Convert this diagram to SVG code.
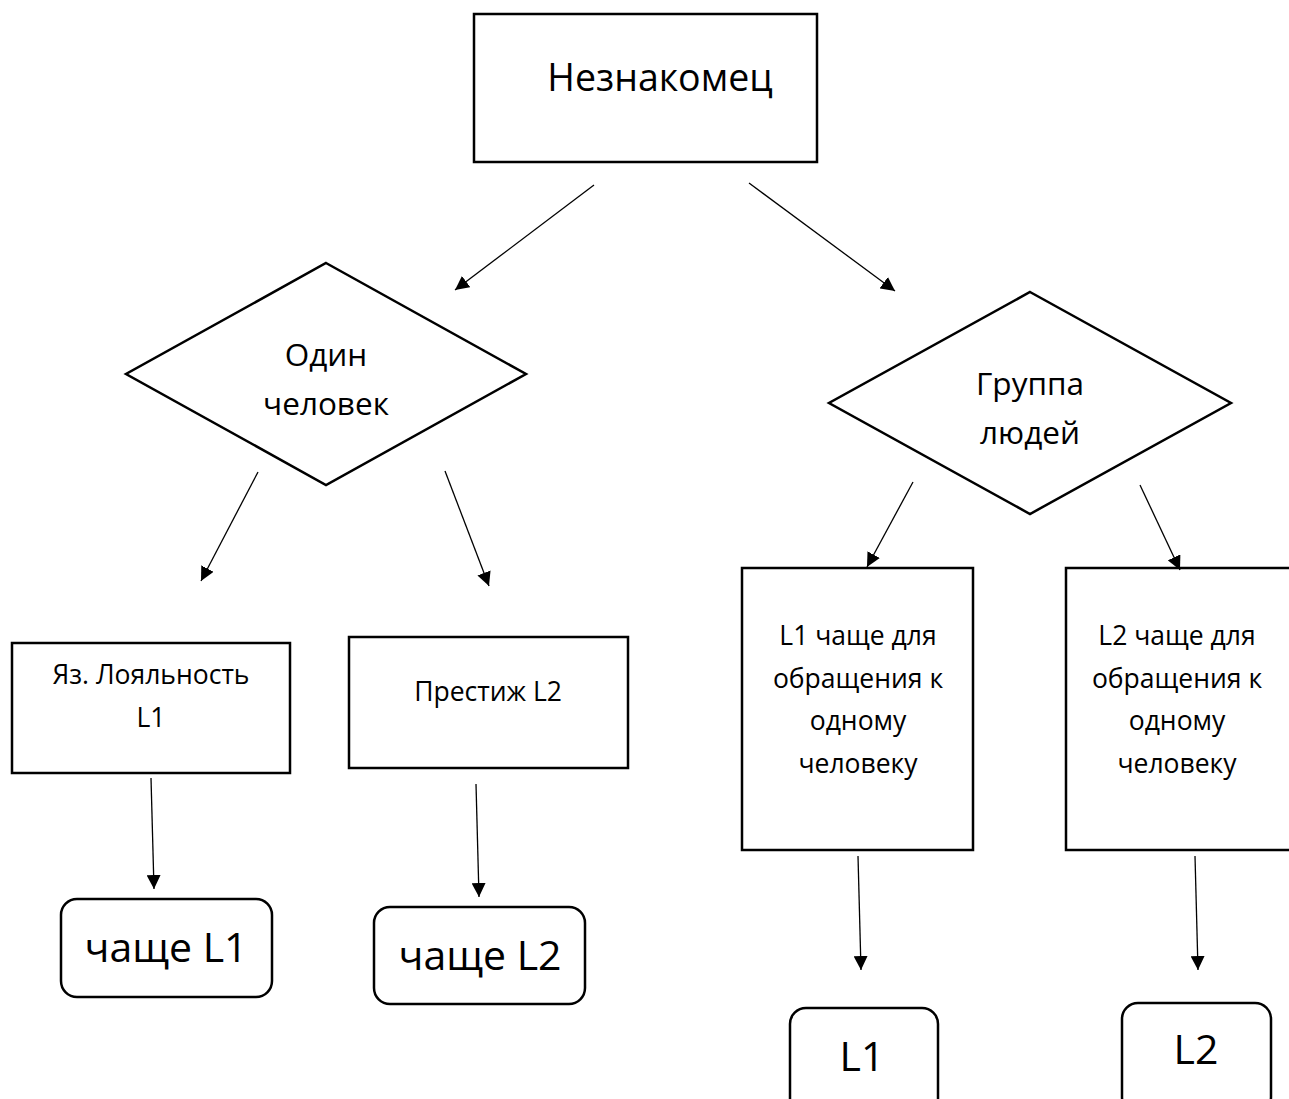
<svg xmlns="http://www.w3.org/2000/svg" width="1289" height="1099" viewBox="0 0 1289 1099">
<defs>
<style>
.box{fill:#fff;stroke:#000;stroke-width:2.5}
.con{stroke:#000;stroke-width:1.3;fill:none;marker-end:url(#ah)}
text{font-family:"Open Sans","Noto Sans",sans-serif;fill:#000;text-anchor:middle}
.big{font-size:37.5px}
.mid{font-size:31.5px}
.sm{font-size:26.5px}
.lg{font-size:41px}
</style>
<marker id="ah" viewBox="0 0 10 10" refX="10" refY="5" markerWidth="14" markerHeight="14" markerUnits="userSpaceOnUse" orient="auto">
<path d="M0,0 L10,5 L0,10 Z" fill="#000"/>
</marker>
</defs>
<rect width="1289" height="1099" fill="#fff"/>
<g id="n-stranger">
<rect class="box" x="474" y="14" width="343" height="148"/>
<text class="big" x="660" y="91">Незнакомец</text>
</g>
<g id="n-one">
<polygon class="box" points="326,263 526,374 326,485 126,374"/>
<text class="mid" x="326" y="366">Один</text>
<text class="mid" x="326" y="415">человек</text>
</g>
<g id="n-group">
<polygon class="box" points="1030,292 1231,403 1030,514 829,403"/>
<text class="mid" x="1030" y="395">Группа</text>
<text class="mid" x="1030" y="444">людей</text>
</g>
<g id="n-loyal">
<rect class="box" x="12" y="643" width="278" height="130"/>
<text class="sm" x="151" y="684">Яз. Лояльность</text>
<text class="sm" x="151" y="727">L1</text>
</g>
<g id="n-prestige">
<rect class="box" x="349" y="637" width="279" height="131"/>
<text class="sm" x="488" y="701">Престиж L2</text>
</g>
<g id="n-l1often">
<rect class="box" x="742" y="568" width="231" height="282"/>
<text class="sm" x="858" y="645">L1 чаще для</text>
<text class="sm" x="858" y="688">обращения к</text>
<text class="sm" x="858" y="730">одному</text>
<text class="sm" x="858" y="773">человеку</text>
</g>
<g id="n-l2often">
<rect class="box" x="1066" y="568" width="240" height="282"/>
<text class="sm" x="1177" y="645">L2 чаще для</text>
<text class="sm" x="1177" y="688">обращения к</text>
<text class="sm" x="1177" y="730">одному</text>
<text class="sm" x="1177" y="773">человеку</text>
</g>
<g id="n-oftenL1">
<rect class="box" x="61" y="899" width="211" height="98" rx="16"/>
<text class="lg" x="166" y="962">чаще L1</text>
</g>
<g id="n-oftenL2">
<rect class="box" x="374" y="907" width="211" height="97" rx="16"/>
<text class="lg" x="480" y="970">чаще L2</text>
</g>
<g id="n-L1">
<rect class="box" x="790" y="1008" width="148" height="110" rx="16"/>
<text class="lg" x="862" y="1071">L1</text>
</g>
<g id="n-L2">
<rect class="box" x="1122" y="1003" width="149" height="110" rx="16"/>
<text class="lg" x="1196" y="1064">L2</text>
</g>
<g id="connectors">
<line class="con" x1="594" y1="185" x2="455" y2="290"/>
<line class="con" x1="749" y1="183" x2="895" y2="291"/>
<line class="con" x1="258" y1="472" x2="201" y2="581"/>
<line class="con" x1="445" y1="471" x2="489" y2="586"/>
<line class="con" x1="913" y1="482" x2="867" y2="567"/>
<line class="con" x1="1140" y1="485" x2="1180" y2="570"/>
<line class="con" x1="151" y1="778" x2="154" y2="889"/>
<line class="con" x1="476" y1="784" x2="479" y2="897"/>
<line class="con" x1="858" y1="856" x2="861" y2="970"/>
<line class="con" x1="1195" y1="856" x2="1198" y2="970"/>
</g>
</svg>
